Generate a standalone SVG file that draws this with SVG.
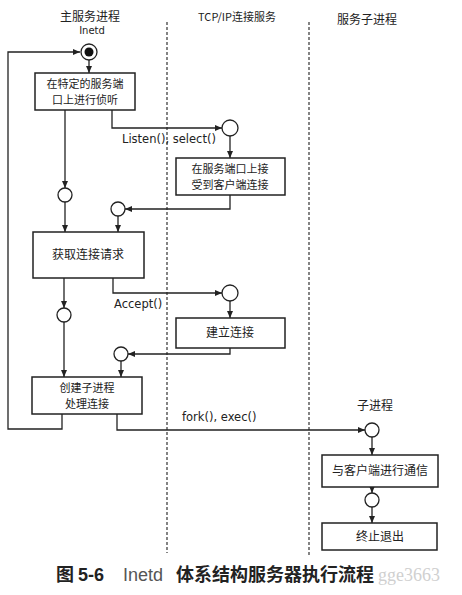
<svg xmlns="http://www.w3.org/2000/svg" width="462" height="595" viewBox="0 0 462 595">
<style>
.bg{fill:#fff}
.box{fill:#fff;stroke:#222;stroke-width:1.5}
.st{fill:#fff;stroke:#222;stroke-width:1.3}
.ln{fill:none;stroke:#222;stroke-width:1.3;marker-end:url(#ah)}
.lane{stroke:#333;stroke-width:1.2;stroke-dasharray:3 2}
.t{font-family:"Noto Sans CJK SC","Noto Sans",sans-serif;font-size:12px;fill:#222;text-anchor:middle}
.t2{font-size:11px}
.l{font-family:"DejaVu Sans",sans-serif;font-size:11.5px;fill:#222}
.cap{font-family:"Noto Sans CJK SC",sans-serif;font-size:18px;font-weight:bold;fill:#222}
</style>
<defs>
<marker id="ah" markerUnits="userSpaceOnUse" markerWidth="8" markerHeight="8" refX="7" refY="3" orient="auto">
<path d="M0,0 L7,3 L0,6 z" fill="#222"/>
</marker>
</defs>
<rect class="bg" x="0" y="0" width="462" height="595"/>
<g id="lanes">
<line class="lane" x1="167" y1="22" x2="167" y2="553"/>
<line class="lane" x1="309" y1="22" x2="309" y2="555"/>
<text class="t" x="90" y="21">主服务进程</text>
<text class="t" x="92" y="34" style="font-family:'DejaVu Sans',sans-serif;font-size:10px">Inetd</text>
<text class="t" x="237" y="21" style="font-size:11px">TCP/IP连接服务</text>
<text class="t" x="367" y="24">服务子进程</text>
<text class="t" x="375" y="410">子进程</text>
</g>
<g id="connectors">
<path class="ln" d="M62,414 V429 H8 V52 H80"/>
<path class="ln" d="M89,60 V73"/>
<path class="ln" d="M65,110 V188"/>
<path class="ln" d="M112,110 V128 H222"/>
<path class="ln" d="M230,136 V158"/>
<path class="ln" d="M230,195 V209 H125"/>
<path class="ln" d="M65,202 V232"/>
<path class="ln" d="M118,216 V232"/>
<path class="ln" d="M64,278 V308"/>
<path class="ln" d="M113,278 V293 H222"/>
<path class="ln" d="M230,301 V318"/>
<path class="ln" d="M230,348 V354 H128"/>
<path class="ln" d="M64,322 V377"/>
<path class="ln" d="M121,361 V377"/>
<path class="ln" d="M117,414 V430 H365"/>
<path class="ln" d="M372,437 V455"/>
<path class="ln" d="M372,487 V493"/>
<path class="ln" d="M372,507 V523"/>
<text class="l" x="122" y="143">Listen(), select()</text>
<text class="l" x="114" y="308">Accept()</text>
<text class="l" x="182" y="421">fork(), exec()</text>
</g>
<g id="start">
<circle class="st" cx="89" cy="52" r="8"/>
<circle cx="89" cy="52" r="4.5" fill="#111"/>
</g>
<g id="n1"><rect class="box" x="35" y="73" width="100" height="37"/>
<text class="t t2" x="85" y="88">在特定的服务端</text><text class="t t2" x="85" y="104">口上进行侦听</text></g>
<g id="cA"><circle class="st" cx="65" cy="195" r="7"/></g>
<g id="cB"><circle class="st" cx="230" cy="128" r="8"/></g>
<g id="n2"><rect class="box" x="176" y="158" width="109" height="37"/>
<text class="t t2" x="230" y="173">在服务端口上接</text><text class="t t2" x="230" y="189">受到客户端连接</text></g>
<g id="cC"><circle class="st" cx="118" cy="209" r="7"/></g>
<g id="n3"><rect class="box" x="33" y="232" width="111" height="46"/>
<text class="t" x="88" y="259">获取连接请求</text></g>
<g id="cD"><circle class="st" cx="64" cy="315" r="7"/></g>
<g id="cE"><circle class="st" cx="230" cy="293" r="8"/></g>
<g id="n4"><rect class="box" x="176" y="318" width="109" height="30"/>
<text class="t" x="230" y="337">建立连接</text></g>
<g id="cF"><circle class="st" cx="121" cy="354" r="7"/></g>
<g id="n5"><rect class="box" x="32" y="377" width="110" height="37"/>
<text class="t t2" x="87" y="392">创建子进程</text><text class="t t2" x="87" y="408">处理连接</text></g>
<g id="cG"><circle class="st" cx="372" cy="430" r="7"/></g>
<g id="n6"><rect class="box" x="322" y="455" width="116" height="32"/>
<text class="t" x="380" y="475">与客户端进行通信</text></g>
<g id="cH"><circle class="st" cx="372" cy="500" r="7"/></g>
<g id="n7"><rect class="box" x="322" y="523" width="115" height="27"/>
<text class="t" x="380" y="541">终止退出</text></g>
<g id="caption">
<text class="cap" x="56" y="581">图 <tspan font-family="Liberation Sans,sans-serif">5-6</tspan><tspan x="123" font-family="Liberation Sans,sans-serif" font-weight="normal" fill="#555">Inetd</tspan><tspan x="176">体系结构服务器执行流程</tspan></text>
<text x="378" y="581" font-family="Liberation Serif,serif" font-size="18" fill="#d0d0d0">gge3663</text>
</g>
</svg>
